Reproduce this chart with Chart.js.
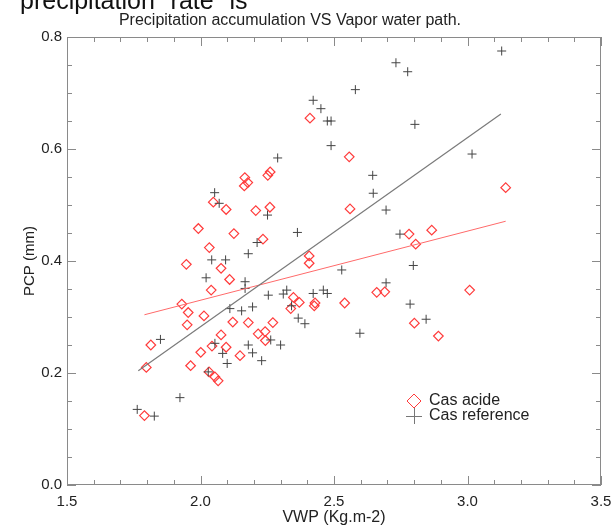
<!DOCTYPE html>
<html><head><meta charset="utf-8">
<script src="https://cdn.jsdelivr.net/npm/chart.js@4.4.0/dist/chart.umd.min.js"></script>
<style>html,body{margin:0;padding:0;background:#fff}#wrap{width:612px;height:527px;position:relative;overflow:hidden}</style>
</head><body><div id="wrap"><canvas id="c" width="612" height="527"></canvas></div>
<script>
// ---- data ----
const acideVWP = [1.790,1.797,1.814,1.930,1.954,1.950,1.963,2.001,2.013,2.032,2.054,2.066,2.043,2.096,2.077,2.121,2.148,2.179,2.216,2.242,2.243,2.271,2.040,2.109,1.947,2.077,2.033,2.125,1.992,2.048,2.096,2.207,2.166,2.177,2.164,2.234,2.252,2.261,2.260,2.410,2.557,2.560,2.407,2.407,2.348,2.370,2.338,2.429,2.426,2.540,2.660,2.690,2.781,2.866,2.806,3.008,2.801,2.891,3.143];
const acidePCP = [0.124,0.210,0.250,0.323,0.308,0.286,0.213,0.237,0.302,0.202,0.193,0.186,0.248,0.246,0.268,0.291,0.231,0.290,0.270,0.274,0.258,0.290,0.348,0.367,0.394,0.387,0.424,0.449,0.458,0.505,0.492,0.490,0.549,0.540,0.534,0.439,0.553,0.559,0.496,0.655,0.586,0.493,0.409,0.396,0.335,0.326,0.315,0.325,0.320,0.325,0.344,0.345,0.448,0.455,0.430,0.348,0.289,0.266,0.531];
const refVWP = [1.763,1.827,1.923,1.850,2.029,2.100,2.083,2.054,2.179,2.195,2.229,2.263,2.300,2.110,2.154,2.195,2.021,2.042,2.094,2.167,2.167,2.179,2.212,2.251,2.053,2.070,2.289,2.363,2.254,2.310,2.323,2.341,2.366,2.391,2.422,2.460,2.475,2.529,2.597,2.422,2.451,2.475,2.489,2.489,2.580,2.645,2.647,2.695,2.695,2.747,2.797,2.785,2.845,2.732,2.776,2.803,3.017,3.128];
const refPCP = [0.135,0.123,0.156,0.260,0.202,0.217,0.235,0.253,0.250,0.236,0.222,0.259,0.250,0.315,0.311,0.318,0.370,0.402,0.402,0.363,0.351,0.413,0.433,0.482,0.522,0.503,0.584,0.451,0.339,0.341,0.348,0.320,0.298,0.288,0.342,0.348,0.342,0.384,0.271,0.687,0.672,0.650,0.650,0.606,0.706,0.553,0.521,0.491,0.361,0.448,0.392,0.323,0.296,0.754,0.738,0.644,0.591,0.775];
const acideFitVWP = [1.790, 3.143];
const acideFitPCP = [0.304, 0.471];
const refFitVWP = [1.767, 3.125];
const refFitPCP = [0.204, 0.6625];
const xTickValues = [1.5, 2.0, 2.5, 3.0, 3.5];
const yTickValues = [0.0, 0.2, 0.4, 0.6, 0.8];
const seriesNames = ['Cas acide', 'Cas reference'];
const chartTitle = 'Precipitation accumulation VS Vapor water path.';
const xAxisTitle = 'VWP (Kg.m-2)';
const yAxisTitle = 'PCP (mm)';
const clippedText = 'precipitation "rate" is';

const RED = '#ff3b3b', RED_LINE = '#ff6a6a', BLACK = '#444444', GREY_LINE = '#7a7a7a', FRAME = '#8a8a8a';
const FONT = 'Liberation Sans, Arial, sans-serif';
const pts = (xs, ys) => xs.map((x, i) => ({x: x, y: ys[i]}));

const decor = {
  id: 'decor',
  afterDraw(chart) {
    const {ctx, chartArea: a, scales: {x, y}} = chart;
    ctx.save();
    ctx.strokeStyle = FRAME; ctx.lineWidth = 1;
    ctx.strokeRect(a.left + 0.5, a.top + 0.5, a.right - a.left - 1, a.bottom - a.top - 1);
    ctx.beginPath();
    for (let v = 1.5; v <= 3.5001; v += 0.1) {
      const px = Math.round(x.getPixelForValue(v)) + 0.5;
      const major = Math.abs(v * 2 - Math.round(v * 2)) < 1e-6;
      const L = major ? 9 : 5;
      ctx.moveTo(px, a.bottom); ctx.lineTo(px, a.bottom - L);
      ctx.moveTo(px, a.top); ctx.lineTo(px, a.top + L);
    }
    for (let v = 0; v <= 0.8001; v += 0.05) {
      const py = Math.round(y.getPixelForValue(v)) + 0.5;
      const major = Math.abs(v * 5 - Math.round(v * 5)) < 1e-6;
      const L = major ? 9 : 5;
      ctx.moveTo(a.left, py); ctx.lineTo(a.left + L, py);
      ctx.moveTo(a.right, py); ctx.lineTo(a.right - L, py);
    }
    ctx.stroke();
    ctx.fillStyle = '#222';
    ctx.font = '16px ' + FONT;
    ctx.textAlign = 'center'; ctx.textBaseline = 'alphabetic';
    ctx.fillText(chartTitle, 290, 25);
    ctx.fillStyle = '#111';
    ctx.font = '25px ' + FONT;
    ctx.textAlign = 'left';
    ctx.fillText(clippedText, 20, 9);
    const lx = 414, ly1 = 401, ly2 = 416;
    ctx.strokeStyle = RED; ctx.lineWidth = 1;
    ctx.beginPath();
    ctx.moveTo(lx, ly1 - 7); ctx.lineTo(lx + 7, ly1); ctx.lineTo(lx, ly1 + 7); ctx.lineTo(lx - 7, ly1); ctx.closePath();
    ctx.stroke();
    ctx.strokeStyle = '#777';
    ctx.beginPath();
    ctx.moveTo(lx - 8, ly2 + 0.5); ctx.lineTo(lx + 8, ly2 + 0.5);
    ctx.moveTo(lx + 0.5, ly2 - 8); ctx.lineTo(lx + 0.5, ly2 + 8);
    ctx.stroke();
    ctx.fillStyle = '#222';
    ctx.font = '16px ' + FONT;
    ctx.textBaseline = 'middle';
    ctx.fillText(seriesNames[0], 429, ly1);
    ctx.fillText(seriesNames[1], 429, ly2);
    ctx.restore();
  }
};

new Chart(document.getElementById('c'), {
  type: 'scatter',
  data: {
    datasets: [
      {label: seriesNames[1] + ' fit', type: 'line', data: pts(refFitVWP, refFitPCP), borderColor: GREY_LINE, borderWidth: 1.2, pointRadius: 0, fill: false},
      {label: seriesNames[0] + ' fit', type: 'line', data: pts(acideFitVWP, acideFitPCP), borderColor: RED_LINE, borderWidth: 1, pointRadius: 0, fill: false},
      {label: seriesNames[1], data: pts(refVWP, refPCP), pointStyle: 'cross', pointRadius: 4.5, borderColor: BLACK, borderWidth: 1, backgroundColor: 'rgba(0,0,0,0)'},
      {label: seriesNames[0], data: pts(acideVWP, acidePCP), pointStyle: 'rectRot', pointRadius: 4.8, borderColor: RED, borderWidth: 1.2, backgroundColor: 'rgba(0,0,0,0)'}
    ]
  },
  options: {
    responsive: false, animation: false, devicePixelRatio: 1,
    layout: {padding: {left: 0, right: 11, top: 37, bottom: 0}},
    plugins: {legend: {display: false}, tooltip: {enabled: false}, title: {display: false}},
    scales: {
      x: {
        type: 'linear', min: 1.5, max: 3.5,
        afterBuildTicks: s => { s.ticks = xTickValues.map(v => ({value: v})); },
        afterFit: s => { s.height = 42; s.paddingLeft = 0; s.paddingRight = 0; },
        grid: {display: false, drawTicks: false}, border: {display: false},
        ticks: {padding: 8, color: '#222', font: {family: FONT, size: 15}, callback: v => Number(v).toFixed(1), maxRotation: 0},
        title: {display: true, text: xAxisTitle, color: '#222', font: {family: FONT, size: 16}, padding: {top: 0, bottom: 0}}
      },
      y: {
        type: 'linear', min: 0, max: 0.8,
        afterBuildTicks: s => { s.ticks = yTickValues.map(v => ({value: v})); },
        afterFit: s => { s.width = 67; s.paddingTop = 0; s.paddingBottom = 0; },
        grid: {display: false, drawTicks: false}, border: {display: false},
        ticks: {padding: 5, color: '#222', font: {family: FONT, size: 15}, callback: v => Number(v).toFixed(1)},
        title: {display: true, text: yAxisTitle, color: '#222', font: {family: FONT, size: 15}, padding: {top: 21, bottom: 0}}
      }
    }
  },
  plugins: [decor]
});
</script></body></html>
